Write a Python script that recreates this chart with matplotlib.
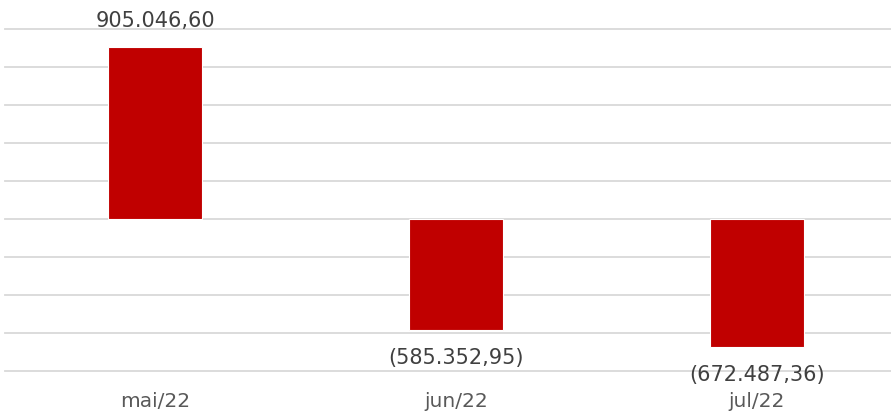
import matplotlib
matplotlib.use("Agg")
import matplotlib.pyplot as plt
import numpy as np

categories = ["mai/22", "jun/22", "jul/22"]
values = [905046.60, -585352.95, -672487.36]
value_labels = ["905.046,60", "(585.352,95)", "(672.487,36)"]

plt.rcParams['font.family'] = ['DejaVu Sans']

W, H = 891, 412
fig = plt.figure(figsize=(W/100, H/100), dpi=100)
left = 4.5 / W
bottom = (H - 371) / H
height = (371 - 29) / H
ax = fig.add_axes([left, bottom, 1 - left, height])
x = np.arange(len(categories))
ax.bar(x, values, width=0.31, color="#C00000", edgecolor="white", linewidth=0.8, zorder=3)
ax.set_xlim(-0.5, -0.5 + (W - 4.5) / 301)
ax.set_ylim(-800000, 1000000)
ax.set_yticks(np.arange(-800000, 1000001, 200000))
ax.yaxis.grid(True, color="#d9d9d9", linewidth=1.3, zorder=0)
for gl in ax.get_ygridlines():
    gl.set_clip_on(False)
ax.set_yticklabels([])
ax.tick_params(axis='y', length=0)
for s in ax.spines.values():
    s.set_visible(False)
ax.set_xticks(x)
ax.set_xticklabels(categories, fontsize=14.5, color="#595959")
ax.tick_params(axis='x', length=0, pad=15)

for xi, v, lab in zip(x, values, value_labels):
    if v >= 0:
        ax.annotate(lab, (xi, v), xytext=(0, 18.5), textcoords="offset points",
                    ha="center", va="center", fontsize=15, color="#404040", zorder=4)
    else:
        ax.annotate(lab, (xi, v), xytext=(0, -20), textcoords="offset points",
                    ha="center", va="center", fontsize=15, color="#404040", zorder=4)

fig.savefig("out.png", dpi=100)
